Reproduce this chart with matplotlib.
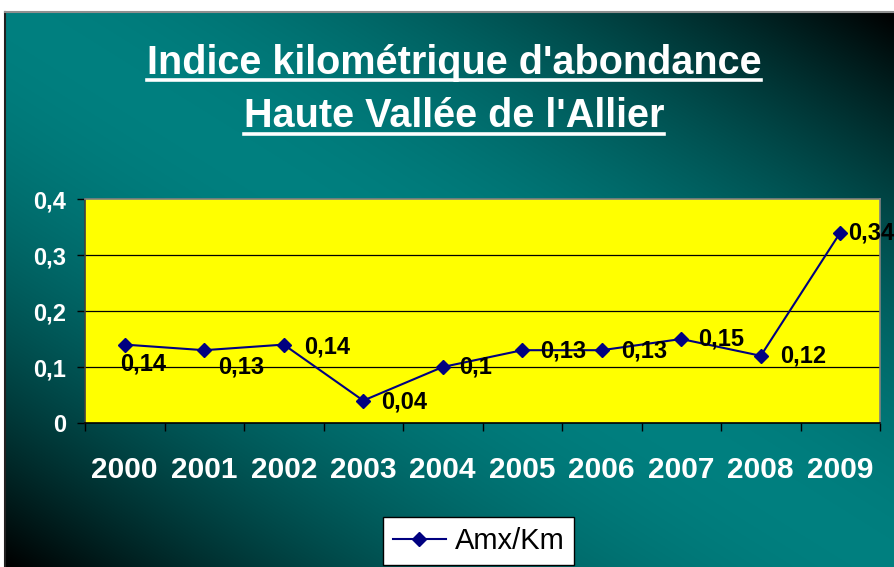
import numpy as np
import matplotlib
matplotlib.use('Agg')
import matplotlib.pyplot as plt
from matplotlib.lines import Line2D

years = ["2000", "2001", "2002", "2003", "2004", "2005", "2006", "2007", "2008", "2009"]
amx_km = [0.14, 0.13, 0.14, 0.04, 0.10, 0.13, 0.13, 0.15, 0.12, 0.34]
point_labels = ["0,14", "0,13", "0,14", "0,04", "0,1", "0,13", "0,13", "0,15", "0,12", "0,34"]
y_ticks = [0, 0.1, 0.2, 0.3, 0.4]
y_tick_labels = ["0", "0,1", "0,2", "0,3", "0,4"]
series_name = "Amx/Km"
title_lines = ["Indice kilométrique d'abondance", "Haute Vallée de l'Allier"]

# label offsets in pixels (dx, dy downward)
label_offsets = [(-5, 19), (14, 17), (20, 2), (18, 1), (16, 0),
                 (18, 1), (19, 1), (17, 0), (19, 0), (8, 0)]

W, H = 894, 567
DPI = 100
PX = 72.0 / DPI
plt.rcParams['font.family'] = ['Liberation Sans', 'DejaVu Sans']

fig = plt.figure(figsize=(W / DPI, H / DPI), dpi=DPI)
fig.patch.set_facecolor('white')

# teal gradient background panel
bg = fig.add_axes([5 / W, 0, (W - 5) / W, (H - 12) / H])
u = np.linspace(0, 1, 400)[None, :]
v = np.linspace(0, 1, 300)[:, None]
d = np.abs(u - v)
f = np.clip(1 - d ** 1.8, 0, 1)
teal = np.array([0.0, 0.50, 0.50])
img = f[:, :, None] * teal[None, None, :]
bg.imshow(img, aspect='auto', extent=(0, 1, 1, 0), interpolation='bilinear')
bg.set_xlim(0, 1)
bg.set_ylim(1, 0)
bg.set_xticks([])
bg.set_yticks([])
for s in ['right', 'bottom']:
    bg.spines[s].set_visible(False)
bg.spines['left'].set_color('#202020')
bg.spines['left'].set_linewidth(1.5)
bg.spines['top'].set_color('#909090')
bg.spines['top'].set_linewidth(1.5)

# main plot
ax = fig.add_axes([85 / W, (H - 423) / H, (880 - 85) / W, (423 - 199) / H])
ax.set_facecolor('#FFFF00')
x = np.arange(len(years))
line, = ax.plot(x, amx_km, color='#000080', lw=1.5, marker='D', ms=7.5,
                markerfacecolor='#000080', markeredgecolor='#000080', label=series_name,
                clip_on=False, zorder=5)

ax.set_xlim(-0.5, len(years) - 0.5)
ax.set_ylim(0, 0.4)
ax.set_yticks(y_ticks)
ax.set_yticklabels(y_tick_labels, color='white', fontsize=17, fontweight='bold')
ax.tick_params(axis='y', direction='out', length=8 * PX, width=1, color='black', pad=11 * PX)
ax.set_xticks(x)
ax.set_xticklabels(years, color='white', fontsize=21.5, fontweight='bold')
ax.tick_params(axis='x', which='major', length=0, pad=33 * PX)
ax.set_xticks(np.arange(len(years) + 1) - 0.5, minor=True)
ax.tick_params(axis='x', which='minor', direction='out', length=8 * PX, width=1, color='black')

for yy in y_ticks[1:-1]:
    ax.axhline(yy, color='black', lw=0.9, zorder=1)
ax.spines['bottom'].set_color('black')
ax.spines['left'].set_color('#404040')
ax.spines['top'].set_color('#808080')
ax.spines['right'].set_color('#808080')
for s in ax.spines.values():
    s.set_linewidth(1.2)

for xi, yi, lab, (dx, dy) in zip(x, amx_km, point_labels, label_offsets):
    ax.annotate(lab, (xi, yi), xytext=(dx * PX, -dy * PX), textcoords='offset points',
                ha='left', va='center', fontsize=17, fontweight='bold', color='black',
                annotation_clip=False, zorder=6)

# title with underline
baselines = [74, 127]
underlines = [80, 134]
texts = []
for t, b in zip(title_lines, baselines):
    texts.append(fig.text(454 / W, 1 - b / H, t, ha='center', va='baseline',
                          fontsize=28.5, fontweight='bold', color='white'))
fig.canvas.draw()
r = fig.canvas.get_renderer()
for t, uy in zip(texts, underlines):
    bb = t.get_window_extent(r)
    fig.add_artist(Line2D([bb.x0 / W, bb.x1 / W], [1 - uy / H, 1 - uy / H],
                          transform=fig.transFigure, color='white', lw=2.6))

leg = fig.legend(handles=[line], labels=[series_name], loc='upper left',
                 bbox_to_anchor=(383 / W, 1 - 517 / H), borderaxespad=0,
                 prop={'size': 21}, fancybox=False, framealpha=1, edgecolor='black',
                 facecolor='white', handlelength=1.8, handletextpad=0.3, borderpad=0.35)
leg.get_frame().set_linewidth(1)

fig.savefig('out.png', dpi=DPI)
